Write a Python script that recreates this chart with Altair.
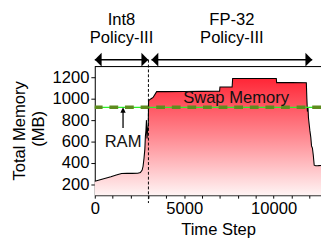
import altair as alt
import pandas as pd

FONT = "Liberation Sans"

# Memory trace (Time Step, Total Memory MB)
time_step = [0, 300, 600, 900, 1200, 1500, 1800, 2100, 2400, 2550, 2650, 2700, 2750,
             2800, 2830, 2860, 2890, 2920, 2950, 2990, 3010, 3150, 3260, 3460, 4000,
             5000, 6000, 6980, 7000, 7680, 7710, 8000, 9000, 10000, 10150, 10170, 11000,
             11830, 11860, 11890, 11920, 11950, 11990, 12030, 12080, 12120, 12170,
             12220, 12270, 12350, 12500, 12650]
total_mem = [230, 245, 258, 272, 288, 303, 304, 304, 305, 312, 335, 370, 440,
             530, 650, 700, 800, 630, 700, 760, 982, 1000, 1012, 1066, 1066,
             1067, 1068, 1070, 1109, 1109, 1188, 1188, 1188, 1188, 1188, 1150, 1150,
             1148, 1000, 880, 920, 820, 760, 700, 640, 560, 540,
             470, 380, 375, 376, 378]

ram_mb = [920]
switch_step = [3000]
phase_labels = ["Int8\nPolicy-III", "FP-32\nPolicy-III"]
phase_start = [0, 3170]
phase_end = [2990, 12160]
x_ticks = list(range(0, 13000, 1000))
y_ticks = [200, 400, 600, 800, 1000, 1200]

W, H = 232, 132
XDOM = [0, 12650]
YDOM = [100, 1300]

df = pd.DataFrame({"t": time_step, "m": total_mem})
phases = pd.DataFrame({"start": phase_start, "end": phase_end, "label": phase_labels})
one = pd.DataFrame({"a": [0]})

xs = alt.Scale(domain=XDOM, nice=False, zero=False)
ys = alt.Scale(domain=YDOM, nice=False, zero=False)


def X(f, **kw):
    return alt.X(f, scale=xs, axis=None, **kw)


def Y(f, **kw):
    return alt.Y(f, scale=ys, axis=None, **kw)


def XD(v):
    return alt.XDatum(v, scale=xs, axis=None, type="quantitative")


def YD(v):
    return alt.YDatum(v, scale=ys, axis=None, type="quantitative")


grad = alt.Gradient(
    gradient="linear",
    stops=[alt.GradientStop(color="#ff2636", offset=0),
           alt.GradientStop(color="#ff8a92", offset=0.5),
           alt.GradientStop(color="#fff4f4", offset=1)],
    x1=1, x2=1, y1=0, y2=1,
)

x_axis = alt.Axis(values=x_ticks, format="d",
                  labelExpr="datum.value % 5000 == 0 ? datum.label : ''",
                  title=None, grid=False, domainColor="black", tickColor="black",
                  tickSize=3, labelFontSize=17, labelColor="black", labelPadding=3,
                  labelFont=FONT, labelFlush=False, labelOverlap=False)
y_axis = alt.Axis(values=y_ticks, format="d", title=None, grid=False,
                  domainColor="black", tickColor="black", tickSize=4,
                  labelFontSize=17, labelColor="black", labelPadding=2, labelFont=FONT,
                  labelOverlap=False)

area = alt.Chart(df).mark_area(color=grad).encode(
    x=alt.X("t:Q", scale=xs, axis=x_axis),
    y=alt.Y("m:Q", scale=ys, axis=y_axis),
    y2=alt.Y2Datum(100),
)
line = alt.Chart(df).mark_line(color="black", strokeWidth=1.1).encode(
    x=X("t:Q"), y=Y("m:Q"))

ram_df = pd.DataFrame({"ram": ram_mb})
ram1 = alt.Chart(ram_df).mark_rule(color="#2cf22c", strokeWidth=1.3).encode(
    y=Y("ram:Q"))
ram2 = alt.Chart(ram_df).mark_rule(color="#5e8c1e", strokeWidth=3.5,
                                   strokeDash=[9, 7]).encode(y=Y("ram:Q"))

sw_df = pd.DataFrame({"s": switch_step})
switch = alt.Chart(sw_df).mark_rule(color="black", strokeWidth=1,
                                    strokeDash=[3, 2]).encode(
    x=X("s:Q"), y=alt.value(-7), y2=alt.value(140))

top_frame = alt.Chart(one).mark_rule(color="black", strokeWidth=1).encode(
    x=alt.value(0), x2=alt.value(W), y=alt.value(0))

arrow_line = alt.Chart(phases).mark_rule(color="black", strokeWidth=1.5).encode(
    x=X("start:Q"), x2="end:Q", y=alt.value(-7))
head_l = alt.Chart(phases).mark_point(
    shape="M1,-1L0,0L1,1Z", filled=True, color="black", opacity=1, size=196,
    strokeWidth=0).encode(x=X("start:Q"), y=alt.value(-7))
head_r = alt.Chart(phases).mark_point(
    shape="M-1,-1L0,0L-1,1Z", filled=True, color="black", opacity=1, size=196,
    strokeWidth=0).encode(x=X("end:Q"), y=alt.value(-7))
phase_txt = alt.Chart(phases).transform_calculate(
    mid="(datum.start + datum.end) / 2").mark_text(
    font=FONT, fontSize=17, lineBreak="\n", lineHeight=19, baseline="alphabetic",
    color="black").encode(x=X("mid:Q"), y=alt.value(-43), text="label:N")

swap_txt = alt.Chart(one).mark_text(font=FONT, fontSize=17, baseline="alphabetic",
                                    color="#111111").encode(
    x=XD(7900), y=YD(957), text=alt.value("Swap Memory"))
ram_txt = alt.Chart(one).mark_text(font=FONT, fontSize=17, baseline="alphabetic",
                                   color="#111111").encode(
    x=XD(1580), y=YD(552), text=alt.value("RAM"))
ram_arrow = alt.Chart(one).mark_rule(color="black", strokeWidth=1.3).encode(
    x=XD(1580), y=YD(727), y2=alt.Y2Datum(880))
ram_head = alt.Chart(one).mark_point(
    shape="M-1,1L0,-1L1,1Z", filled=True, color="black", opacity=1, size=30,
    strokeWidth=0).encode(x=XD(1580), y=YD(895))

ytitle1 = alt.Chart(one).mark_text(font=FONT, fontSize=17, angle=270,
                                   baseline="middle", color="black").encode(
    x=alt.value(-77), y=alt.value(66), text=alt.value("Total Memory"))
ytitle2 = alt.Chart(one).mark_text(font=FONT, fontSize=17, angle=270,
                                   baseline="middle", color="black").encode(
    x=alt.value(-57), y=alt.value(64), text=alt.value("(MB)"))
xtitle = alt.Chart(one).mark_text(font=FONT, fontSize=17, baseline="alphabetic",
                                  color="black").encode(
    x=alt.value(127), y=alt.value(173), text=alt.value("Time Step"))

chart = alt.layer(
    area, line, ram1, ram2, switch, top_frame, arrow_line, head_l, head_r, phase_txt,
    swap_txt, ram_txt, ram_arrow, ram_head, ytitle1, ytitle2, xtitle,
).resolve_axis(x="independent", y="independent").properties(
    width=W, height=H,
    autosize=alt.AutoSizeParams(type="none"),
    padding={"left": 89, "top": 57, "right": 0, "bottom": 47},
).configure_view(stroke=None).configure(font=FONT)

chart.save("out.html", embed_options={"renderer": "svg", "actions": False})
